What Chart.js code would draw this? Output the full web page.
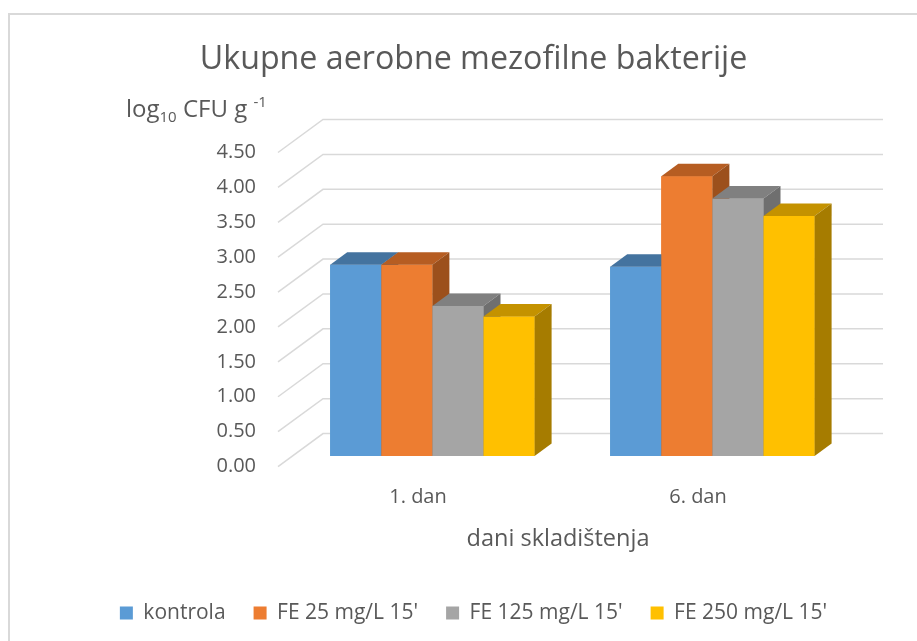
<!DOCTYPE html>
<html>
<head>
<meta charset="utf-8">
<script src="https://cdn.jsdelivr.net/npm/chart.js@4"></script>
<style>
  html, body { margin: 0; padding: 0; background: #fff; }
  canvas { display: block; }
</style>
</head>
<body>
<canvas id="chart" width="917" height="641"></canvas>
<script>
// data
const categories = ['1. dan', '6. dan'];
const seriesNames = ['kontrola', "FE 25 mg/L 15'", "FE 125 mg/L 15'", "FE 250 mg/L 15'"];
const kontrola = [2.74, 2.71];
const fe25 = [2.74, 4.01];
const fe125 = [2.15, 3.69];
const fe250 = [2.00, 3.44];
const yTicks = [0, 0.5, 1, 1.5, 2, 2.5, 3, 3.5, 4, 4.5];

const frontColors = ['#5B9BD5', '#ED7D31', '#A5A5A5', '#FFC000'];
const topColors = ['#44739F', '#B65D22', '#808080', '#C49200'];
const sideColors = ['#3E6890', '#9C501C', '#6F6F6F', '#A67C00'];

const FONT = "'Open Sans', sans-serif";
const TEXT = '#595959';
const GRID = '#D9D9D9';

// 3D look: depth of floor and of each bar (oblique projection)
const FLOOR_DX = 45, FLOOR_DY = -33;
const BAR_AT = 0.32;       // bars stand at this fraction of floor depth
const BAR_DX = 17, BAR_DY = -12.5;

const threeD = {
    id: 'threeD',
    beforeDraw(chart) {
        const ctx = chart.ctx;
        ctx.save();
        ctx.fillStyle = '#fff';
        ctx.fillRect(0, 0, chart.width, chart.height);
        ctx.strokeStyle = GRID;
        ctx.lineWidth = 2;
        ctx.strokeRect(9, 14, chart.width + 10, chart.height + 10);
        ctx.restore();
    },
    beforeDatasetsDraw(chart) {
        const ctx = chart.ctx;
        const y = chart.scales.y;
        const area = chart.chartArea;
        const fx = -FLOOR_DX * BAR_AT, fy = -FLOOR_DY * BAR_AT;
        const bx = FLOOR_DX * (1 - BAR_AT), by = FLOOR_DY * (1 - BAR_AT);
        ctx.save();
        ctx.strokeStyle = GRID;
        ctx.lineWidth = 1.5;
        y.ticks.forEach(t => {
            const py = y.getPixelForValue(t.value);
            ctx.beginPath();
            ctx.moveTo(area.left + fx, py + fy);
            ctx.lineTo(area.left + bx, py + by);
            ctx.lineTo(area.right + bx, py + by);
            ctx.stroke();
        });
        ctx.restore();
    },
    afterDatasetsDraw(chart) {
        const ctx = chart.ctx;
        const metas = chart.data.datasets.map((d, i) => chart.getDatasetMeta(i));
        ctx.save();
        categories.forEach((c, j) => {
            metas.forEach((meta, i) => {
                const bar = meta.data[j];
                const x0 = bar.x - bar.width / 2, x1 = bar.x + bar.width / 2;
                const top = bar.y, base = bar.base;
                bar.draw(ctx);
                // top face
                ctx.fillStyle = topColors[i];
                ctx.beginPath();
                ctx.moveTo(x0, top);
                ctx.lineTo(x1, top);
                ctx.lineTo(x1 + BAR_DX, top + BAR_DY);
                ctx.lineTo(x0 + BAR_DX, top + BAR_DY);
                ctx.closePath();
                ctx.fill();
                // right side face
                ctx.fillStyle = sideColors[i];
                ctx.beginPath();
                ctx.moveTo(x1, top);
                ctx.lineTo(x1 + BAR_DX, top + BAR_DY);
                ctx.lineTo(x1 + BAR_DX, base + BAR_DY);
                ctx.lineTo(x1, base);
                ctx.closePath();
                ctx.fill();
            });
        });
        ctx.restore();
    },
    afterDraw(chart) {
        const ctx = chart.ctx;
        const area = chart.chartArea;
        ctx.save();
        ctx.fillStyle = TEXT;
        ctx.textBaseline = 'alphabetic';
        ctx.textAlign = 'left';
        // y axis title: log10 CFU g -1
        let x = 126;
        const base = 117;
        ctx.font = '24px ' + FONT;
        ctx.fillText('log', x, base);
        x += ctx.measureText('log').width;
        ctx.font = '15px ' + FONT;
        ctx.fillText('10', x, base + 5);
        x += ctx.measureText('10').width;
        ctx.font = '24px ' + FONT;
        ctx.fillText(' CFU g ', x, base);
        x += ctx.measureText(' CFU g ').width;
        ctx.font = '15px ' + FONT;
        ctx.fillText('-1', x, base - 10);
        // x axis title, centred on the front edge of the floor
        ctx.font = '23.5px ' + FONT;
        ctx.textAlign = 'center';
        ctx.textBaseline = 'middle';
        const cx = (area.left + area.right) / 2 - FLOOR_DX * BAR_AT;
        ctx.fillText('dani skladištenja', cx, 539);
        ctx.restore();
    }
};

const datasets = [kontrola, fe25, fe125, fe250].map((values, i) => ({
    label: seriesNames[i],
    data: values,
    backgroundColor: frontColors[i],
    borderWidth: 0,
    categoryPercentage: 0.73,
    barPercentage: 1.0,
    yAxisID: 'y'
}));

new Chart(document.getElementById('chart'), {
    type: 'bar',
    data: { labels: categories, datasets: datasets },
    options: {
        responsive: false,
        animation: false,
        layout: { padding: { left: 30, right: 0, top: 2, bottom: 10.6 } },
        plugins: {
            title: {
                display: true,
                text: 'Ukupne aerobne mezofilne bakterije',
                color: TEXT,
                font: { family: FONT, size: 32.2, weight: 'normal' },
                padding: { top: 38.6, bottom: 62.7 }
            },
            legend: {
                position: 'bottom',
                maxHeight: 56,
                labels: {
                    color: TEXT,
                    font: { family: FONT, size: 21 },
                    boxWidth: 13,
                    boxHeight: 13,
                    padding: 28
                }
            },
            tooltip: { enabled: false }
        },
        scales: {
            x: {
                grid: { display: false, drawTicks: false },
                border: { display: false },
                ticks: {
                    color: TEXT,
                    font: { family: FONT, size: 20 },
                    padding: 29.5,
                    labelOffset: -FLOOR_DX * BAR_AT,
                    maxRotation: 0
                },
                afterFit: s => { s.height = 118.4; }
            },
            y: {
                min: 0,
                max: 4.5,
                grid: { display: false, drawTicks: false },
                border: { display: false },
                afterBuildTicks: s => { s.ticks = yTicks.map(v => ({ value: v })); },
                ticks: {
                    color: TEXT,
                    font: { family: FONT, size: 20 },
                    padding: 36.4,
                    labelOffset: -FLOOR_DY * BAR_AT,
                    callback: v => v.toFixed(2)
                },
                afterFit: s => { s.width = 262.4; }
            },
            // empty right axis only keeps room for the back wall
            yRight: {
                position: 'right',
                grid: { display: false, drawTicks: false },
                border: { display: false },
                ticks: { display: false },
                afterFit: s => { s.width = 64.6; }
            }
        }
    },
    plugins: [threeD]
});
</script>
</body>
</html>
